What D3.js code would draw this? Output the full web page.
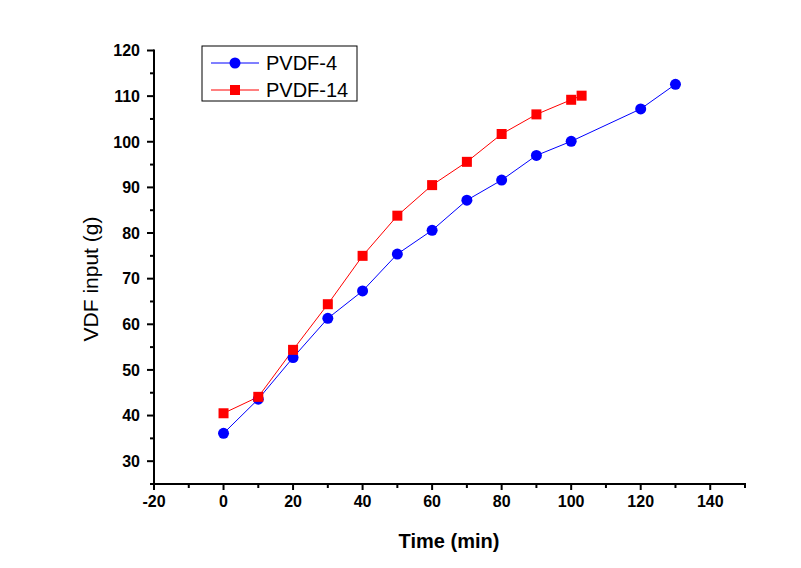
<!DOCTYPE html>
<html>
<head>
<meta charset="utf-8">
<script src="https://cdn.jsdelivr.net/npm/d3@7"></script>
<style>
  html, body { margin: 0; padding: 0; background: #fff; }
  svg { display: block; }
</style>
</head>
<body>
<svg id="chart" width="801" height="568"></svg>
<script>
// ---- data ----
const seriesNames = ["PVDF-4", "PVDF-14"];
const timeA = [0, 10, 20, 30, 40, 50, 60, 70, 80, 90, 100, 120, 130];
const vdfA  = [36.1, 43.6, 52.7, 61.3, 67.3, 75.4, 80.6, 87.2, 91.6, 97.0, 100.1, 107.2, 112.6];
const timeB = [0, 10, 20, 30, 40, 50, 60, 70, 80, 90, 100, 103];
const vdfB  = [40.5, 44.1, 54.4, 64.4, 75.0, 83.8, 90.5, 95.6, 101.7, 106.0, 109.2, 110.1];
const xTicks = [-20, 0, 20, 40, 60, 80, 100, 120, 140];
const yTicks = [30, 40, 50, 60, 70, 80, 90, 100, 110, 120];
const xLabel = "Time (min)";
const yLabel = "VDF input (g)";

(function () {
const svg = d3.select("#chart");
const mLeft = 154, mRight = 745, mTop = 50.5, mBottom = 484;

const x = d3.scaleLinear().domain([-20, 150]).range([mLeft, mRight]);
const y = d3.scaleLinear().domain([25, 120]).range([mBottom, mTop]);

const font = "Arial, 'Liberation Sans', sans-serif";

// minor ticks
const xMinor = d3.range(-10, 151, 20);
const yMinor = d3.range(25, 120, 10);

// X axis
const gx = svg.append("g").attr("transform", `translate(0,${mBottom})`);
gx.append("line").attr("x1", mLeft - 1).attr("x2", mRight + 1).attr("stroke", "#000").attr("stroke-width", 2);
gx.selectAll(".maj").data(xTicks).enter().append("line")
  .attr("x1", d => x(d)).attr("x2", d => x(d)).attr("y1", 0).attr("y2", 6)
  .attr("stroke", "#000").attr("stroke-width", 2);
gx.selectAll(".min").data(xMinor).enter().append("line")
  .attr("x1", d => x(d)).attr("x2", d => x(d)).attr("y1", 0).attr("y2", 4)
  .attr("stroke", "#000").attr("stroke-width", 2);
gx.selectAll(".lbl").data(xTicks).enter().append("text")
  .attr("x", d => x(d)).attr("y", 23)
  .attr("text-anchor", "middle")
  .attr("font-family", font).attr("font-weight", "bold").attr("font-size", 16)
  .text(d => d);

// Y axis
const gy = svg.append("g").attr("transform", `translate(${mLeft},0)`);
gy.append("line").attr("y1", mTop - 1).attr("y2", mBottom + 1).attr("stroke", "#000").attr("stroke-width", 2);
gy.selectAll(".maj").data(yTicks).enter().append("line")
  .attr("y1", d => y(d)).attr("y2", d => y(d)).attr("x1", 0).attr("x2", -7)
  .attr("stroke", "#000").attr("stroke-width", 2);
gy.selectAll(".min").data(yMinor).enter().append("line")
  .attr("y1", d => y(d)).attr("y2", d => y(d)).attr("x1", 0).attr("x2", -4)
  .attr("stroke", "#000").attr("stroke-width", 2);
gy.selectAll(".lbl").data(yTicks).enter().append("text")
  .attr("x", -14).attr("y", d => y(d)).attr("dy", "0.36em")
  .attr("text-anchor", "end")
  .attr("font-family", font).attr("font-weight", "bold").attr("font-size", 16)
  .text(d => d);

// axis titles
svg.append("text").attr("x", 449).attr("y", 548).attr("text-anchor", "middle")
  .attr("font-family", font).attr("font-weight", "bold").attr("font-size", 20)
  .text(xLabel);
svg.append("text").attr("transform", `translate(98,279) rotate(-90)`)
  .attr("text-anchor", "middle")
  .attr("font-family", font).attr("font-size", 21)
  .text(yLabel);

// series
const line = d3.line().x(d => x(d[0])).y(d => y(d[1]));
const dataA = timeA.map((t, i) => [t, vdfA[i]]);
const dataB = timeB.map((t, i) => [t, vdfB[i]]);

svg.append("path").datum(dataA).attr("d", line).attr("fill", "none").attr("stroke", "#0000ff").attr("stroke-width", 1);
svg.append("path").datum(dataB).attr("d", line).attr("fill", "none").attr("stroke", "#ff0000").attr("stroke-width", 1);

svg.selectAll(".ptA").data(dataA).enter().append("circle")
  .attr("cx", d => x(d[0])).attr("cy", d => y(d[1])).attr("r", 5.5).attr("fill", "#0000ff");
svg.selectAll(".ptB").data(dataB).enter().append("rect")
  .attr("x", d => x(d[0]) - 5).attr("y", d => y(d[1]) - 5).attr("width", 10).attr("height", 10).attr("fill", "#ff0000");

// legend
const lg = svg.append("g");
lg.append("rect").attr("x", 202).attr("y", 46).attr("width", 155).attr("height", 55)
  .attr("fill", "#fff").attr("stroke", "#000").attr("stroke-width", 1);
const rows = [
  {name: seriesNames[0], color: "#0000ff", shape: "circle", yy: 63},
  {name: seriesNames[1], color: "#ff0000", shape: "square", yy: 90}
];
rows.forEach(r => {
  lg.append("line").attr("x1", 211).attr("x2", 259).attr("y1", r.yy).attr("y2", r.yy)
    .attr("stroke", r.color).attr("stroke-width", 1);
  if (r.shape === "circle") {
    lg.append("circle").attr("cx", 235).attr("cy", r.yy).attr("r", 5.5).attr("fill", r.color);
  } else {
    lg.append("rect").attr("x", 230).attr("y", r.yy - 5).attr("width", 10).attr("height", 10).attr("fill", r.color);
  }
  lg.append("text").attr("x", 266).attr("y", r.yy).attr("dy", "0.36em")
    .attr("font-family", font).attr("font-size", 20).text(r.name);
});
})();
</script>
</body>
</html>
